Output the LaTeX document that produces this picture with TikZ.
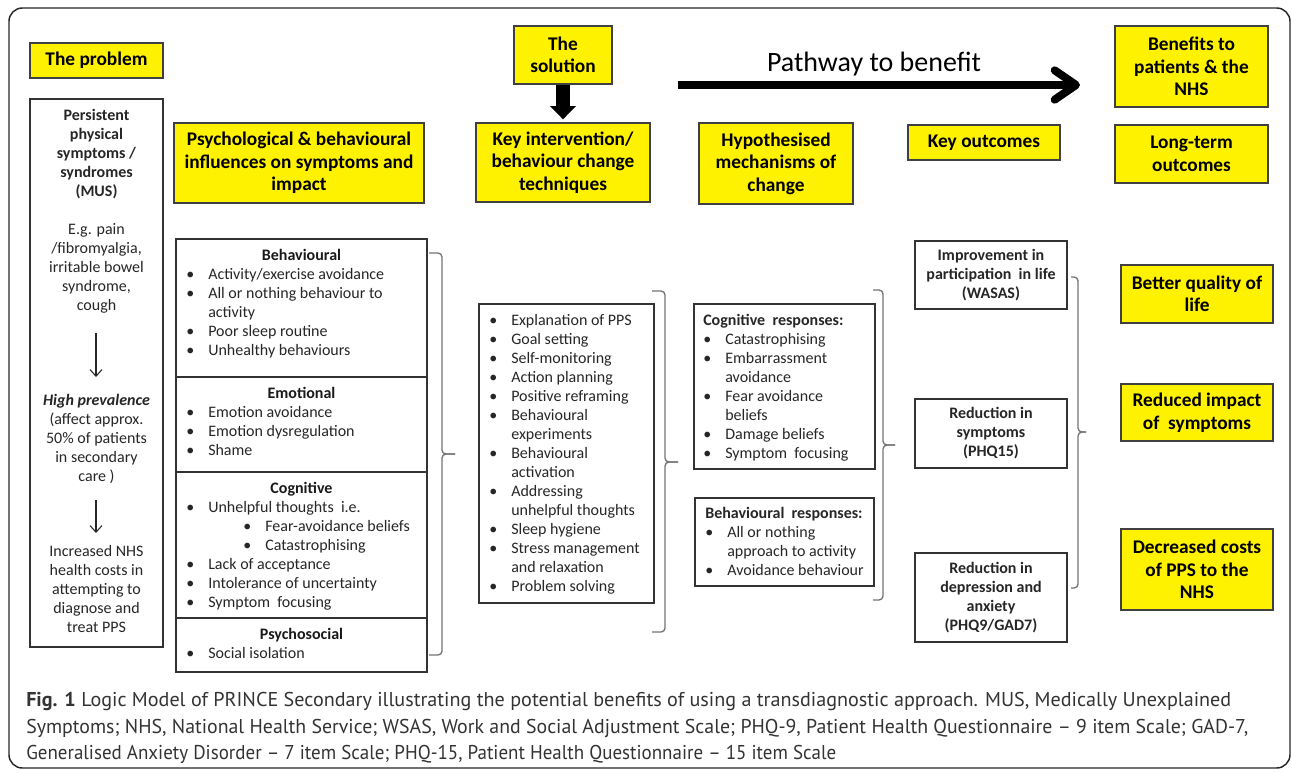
\documentclass[tikz,border=0pt]{standalone}
\usepackage{fontspec}
\usepackage{graphicx}
\setmainfont{Carlito}
\newfontfamily\capfont{PT Sans}
\usetikzlibrary{fit,arrows.meta}
\newdimen\pxu \pxu=0.75pt
\newcommand\hfont{\fontsize{14.5}{16.9}\selectfont\bfseries}
\newcommand\bfont{\fontsize{12}{14.25}\selectfont}
\newcommand\bu{\makebox[22\pxu][l]{•}}
\newcommand\ind{\hspace*{22\pxu}}
\begin{document}
\begin{tikzpicture}[x=0.75pt,y=-0.75pt,
 bx/.style 2 args={minimum width=#1\pxu,minimum height=#2\pxu},
 ybox/.style={draw=black!75,line width=1pt,fill=yellow,inner sep=0pt,font=\hfont,align=center},
 wbox/.style={draw=black!80,line width=0.9pt,fill=white,inner sep=0pt,font=\bfont\bfseries,align=center,text=black!85},
 lbox/.style={draw=black!80,line width=0.9pt,inner sep=0pt},
 txt/.style={inner sep=0pt,font=\bfont,align=left,anchor=base west,text=black!85},
 ctxt/.style={inner sep=0pt,font=\bfont,align=center,anchor=base,text=black!85},
 ttl/.style={inner sep=0pt,font=\bfont\bfseries,anchor=base,text=black!90},
 brace/.style={draw=black!55,line width=1pt,rounded corners=3pt},
 thinarr/.style={draw=black!85,line width=0.8pt,-{Straight Barb[length=5pt,width=9pt]}},
 capnode/.style={anchor=base west,inner sep=0pt,font=\capfont\fontsize{15}{18}\selectfont,text=black!80},
]
\useasboundingbox (0,0) rectangle (1292,772);
\draw[black!85,line width=1.1pt,rounded corners=10pt] (9,8) rectangle (1290,768);

% headers
\node[ybox,bx={133}{35}] (prob) at (96.5,60.5) {The problem};
\node[ybox,bx={250}{80}] (psych) at (299,163) {Psychological \& behavioural\\influences on symptoms and\\impact};
\node[ybox,bx={98}{58}] (sol) at (563,55) {The\\solution};
\node[ybox,bx={174}{79}] (keyint) at (563,162.5) {Key intervention/\\behaviour change\\techniques};
\node[ybox,bx={154}{81}] (hyp) at (776,163.5) {Hypothesised\\mechanisms of\\change};
\node[ybox,bx={152}{35}] (keyout) at (984,142.5) {Key outcomes};
\node[ybox,bx={153}{81}] (ben) at (1191.5,66.5) {Benefits to\\patients \& the\\NHS};
\node[ybox,bx={153}{58}] (lt) at (1191.5,154) {Long-term\\outcomes};

\draw[line width=10pt,-{Triangle[length=10pt,width=19pt]},shorten >=2.25pt] (sol) -- (keyint);

% pathway
\coordinate (pw1) at (678,85);
\coordinate (pw2) at (1080,85);
\draw[line width=6pt,-{Straight Barb[length=16pt,width=22pt,round]}] (pw1) -- (pw2);
\node[inner sep=0pt,font=\fontsize{21}{25}\selectfont,anchor=base] (pwt) at (874,71) {Pathway to benefit};

% left column
\node[lbox,fit={(30,99)(163,647)}] (lcol) {};
\node[ctxt] (lc1) at (96.5,310.5) {\textbf{Persistent}\\\textbf{physical}\\\textbf{symptoms /}\\\textbf{syndromes}\\\textbf{(MUS)}\\[14.25pt]E.g. pain\\/fibromyalgia,\\irritable bowel\\syndrome,\\cough};
\node[ctxt] (lc2) at (96.5,481.5) {\textbf{\textit{High prevalence}}\\(affect approx.\\50\% of patients\\in secondary\\care )};
\node[ctxt] (lc3) at (96.5,632.5) {Increased NHS\\health costs in\\attempting to\\diagnose and\\treat PPS};
\coordinate (a1s) at (96,333);
\coordinate (a1e) at (96,377);
\coordinate (a2s) at (96,500);
\coordinate (a2e) at (96,533);
\draw[thinarr] (a1s) -- (a1e);
\draw[thinarr] (a2s) -- (a2e);

% influences
\node[lbox,fit={(176,239)(427,377)}] (beh) {};
\node[lbox,fit={(176,377)(427,472)}] (emo) {};
\node[lbox,fit={(176,472)(427,618)}] (cog) {};
\node[lbox,fit={(176,618)(427,672)}] (psy) {};
\node[ttl] (behT) at (301.5,260) {Behavioural};
\node[txt] (behL) at (186,355.5) {\bu Activity/exercise avoidance\\\bu All or nothing behaviour to\\\ind activity\\\bu Poor sleep routine\\\bu Unhealthy behaviours};
\node[ttl] (emoT) at (301.5,398) {Emotional};
\node[txt] (emoL) at (186,455.5) {\bu Emotion avoidance\\\bu Emotion dysregulation\\\bu Shame};
\node[ttl] (cogT) at (301.5,493) {Cognitive};
\node[txt] (cogL) at (186,607.5) {\bu Unhelpful thoughts\ \ i.e.\\\hspace*{57\pxu}\bu Fear-avoidance beliefs\\\hspace*{57\pxu}\bu Catastrophising\\\bu Lack of acceptance\\\bu Intolerance of uncertainty\\\bu Symptom\ \ focusing};
\node[ttl] (psyT) at (301.5,639) {Psychosocial};
\node[txt] (psyL) at (186,658.5) {\bu Social isolation};

% interventions
\node[lbox,fit={(479,304)(654,603)}] (intv) {};
\node[txt] (intvL) at (489,591.5) {\bu Explanation of PPS\\\bu Goal setting\\\bu Self-monitoring\\\bu Action planning\\\bu Positive reframing\\\bu Behavioural\\\ind experiments\\\bu Behavioural\\\ind activation\\\bu Addressing\\\ind unhelpful thoughts\\\bu Sleep hygiene\\\bu Stress management\\\ind and relaxation\\\bu Problem solving};

% mechanisms
\node[lbox,fit={(694,304)(875,469)}] (cresp) {};
\node[txt] (crespL) at (703,458.5) {\textbf{Cognitive\ \ responses:}\\\bu Catastrophising\\\bu Embarrassment\\\ind avoidance\\\bu Fear avoidance\\\ind beliefs\\\bu Damage beliefs\\\bu Symptom\ \ focusing};
\node[lbox,fit={(695,498)(874,586)}] (bresp) {};
\node[txt] (brespL) at (705,575.5) {\textbf{Behavioural\ \ responses:}\\\bu All or nothing\\\ind approach to activity\\\bu Avoidance behaviour};

% outcomes
\node[wbox,bx={152}{68}] (o1) at (991,275) {Improvement in\\participation\ \ in life\\(WASAS)};
\node[wbox,bx={152}{69}] (o2) at (991,433.5) {Reduction in\\symptoms\\(PHQ15)};
\node[wbox,bx={152}{89}] (o3) at (991,597.5) {Reduction in\\depression and\\anxiety\\(PHQ9/GAD7)};

% long-term
\node[ybox,bx={152}{58}] (l1) at (1197,294) {Better quality of\\life};
\node[ybox,bx={152}{57}] (l2) at (1197,412.5) {Reduced impact\\of\ \ symptoms};
\node[ybox,bx={152}{81}] (l3) at (1197,569.5) {Decreased costs\\of PPS to the\\NHS};

% braces
\draw[brace] (429,253) -| (442,454) -- (455,454);
\draw[brace] (429,655) -| (442,454) -- (455,454);
\draw[brace] (652,291) -| (665,462) -- (678,462);
\draw[brace] (652,632) -| (665,462) -- (678,462);
\draw[brace] (873,290) -| (883,445) -- (895,445);
\draw[brace] (873,600) -| (883,445) -- (895,445);
\draw[brace] (1071,277) -| (1078,432) -- (1086,432);
\draw[brace] (1071,588) -| (1078,432) -- (1086,432);

% caption
\node[capnode] (cap1) at (26,706) {\resizebox{1205\pxu}{\height}{\textbf{Fig. 1} Logic Model of PRINCE Secondary illustrating the potential benefits of using a transdiagnostic approach. MUS, Medically Unexplained}};
\node[capnode] (cap2) at (26,733) {\resizebox{1222\pxu}{\height}{Symptoms; NHS, National Health Service; WSAS, Work and Social Adjustment Scale; PHQ-9, Patient Health Questionnaire – 9 item Scale; GAD-7,}};
\node[capnode] (cap3) at (26,759) {\resizebox{810\pxu}{\height}{Generalised Anxiety Disorder – 7 item Scale; PHQ-15, Patient Health Questionnaire – 15 item Scale}};
\end{tikzpicture}
\end{document}
